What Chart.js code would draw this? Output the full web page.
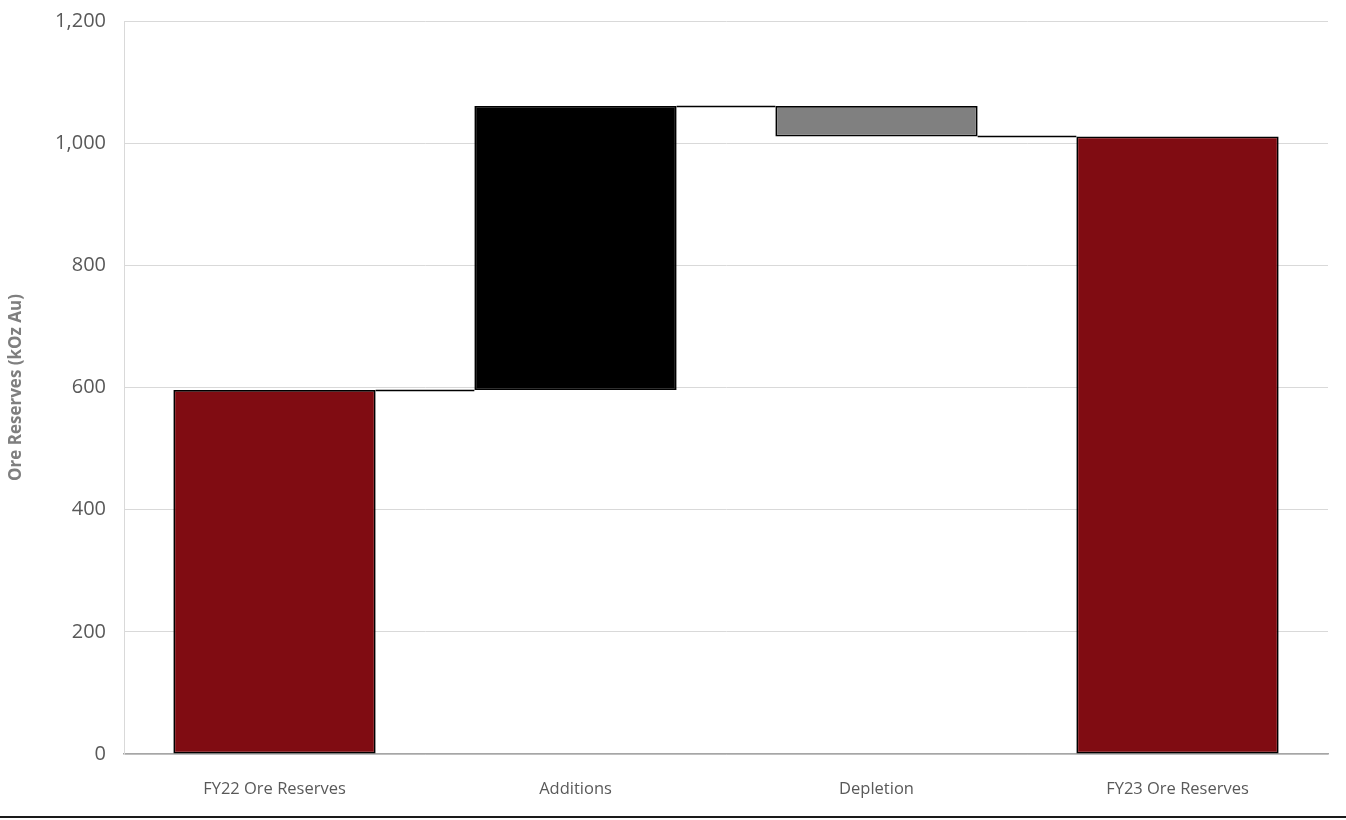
<!DOCTYPE html>
<html>
<head>
<meta charset="utf-8">
<script src="https://cdn.jsdelivr.net/npm/chart.js@4.4.1/dist/chart.umd.min.js"></script>
<style>
  html, body { margin: 0; padding: 0; background: #fff; }
  #wrap { width: 1346px; height: 820px; position: relative; }
</style>
</head>
<body>
<div id="wrap"><canvas id="reserveChart"></canvas></div>
<script>
// Ore reserve movement, kOz Au
const categories = ["FY22 Ore Reserves", "Additions", "Depletion", "FY23 Ore Reserves"];
const openingReserves = 596;
const movements = [465, -50];          // additions, depletion
const closingReserves = 1011;
const yTicks = [0, 200, 400, 600, 800, 1000, 1200];

const barColors = ["#800c12", "#000000", "#808080", "#800c12"];

// floating bars: [bottom, top] for each step of the waterfall
function buildRanges() {
    const ranges = [[0, openingReserves]];
    let level = openingReserves;
    movements.forEach(m => {
        const next = level + m;
        ranges.push([Math.min(level, next), Math.max(level, next)]);
        level = next;
    });
    ranges.push([0, closingReserves]);
    return ranges;
}
const ranges = buildRanges();

// running level after each bar, used for the connector lines
const levels = [openingReserves];
movements.forEach(m => levels.push(levels[levels.length - 1] + m));

const connectorPlugin = {
    id: "connectors",
    afterDatasetsDraw(chart) {
        const ctx = chart.ctx;
        const meta = chart.getDatasetMeta(0);
        const y = chart.scales.y;
        ctx.save();
        ctx.strokeStyle = "#000";
        ctx.lineWidth = 1.5;
        for (let i = 0; i < meta.data.length - 1; i++) {
            const a = meta.data[i], b = meta.data[i + 1];
            const py = Math.round(y.getPixelForValue(levels[i])) + 0.5;
            ctx.beginPath();
            ctx.moveTo(a.x + a.width / 2, py);
            ctx.lineTo(b.x - b.width / 2, py);
            ctx.stroke();
        }
        ctx.restore();
    },
    afterDraw(chart) {
        // frame line along the bottom edge
        const ctx = chart.ctx;
        ctx.save();
        ctx.fillStyle = "#1a1a1a";
        ctx.fillRect(0, chart.height - 4, chart.width, 2);
        ctx.restore();
    }
};

Chart.defaults.font.family = "'Open Sans', 'Liberation Sans', sans-serif";
Chart.defaults.color = "#595959";

new Chart(document.getElementById("reserveChart"), {
    type: "bar",
    data: {
        labels: categories,
        datasets: [{
            data: ranges,
            backgroundColor: barColors,
            borderColor: "#000",
            borderWidth: 1.8,
            borderSkipped: false,
            categoryPercentage: 1,
            barPercentage: 0.672
        }]
    },
    options: {
        responsive: true,
        maintainAspectRatio: false,
        animation: false,
        layout: { padding: { top: 0, right: 18, left: 6, bottom: 4 } },
        plugins: {
            legend: { display: false },
            tooltip: { enabled: false }
        },
        scales: {
            x: {
                grid: { display: false },
                border: { color: "#a6a6a6", width: 1.5 },
                ticks: { font: { size: 16.5 }, color: "#595959", padding: 17 },
                afterFit(scale) { scale.height = 62; }
            },
            y: {
                min: 0,
                max: 1200,
                afterBuildTicks(scale) { scale.ticks = yTicks.map(v => ({ value: v })); },
                grid: { color: "#d9d9d9", lineWidth: 1, drawTicks: false },
                border: { color: "#d9d9d9", width: 1 },
                ticks: {
                    font: { size: 20 },
                    color: "#595959",
                    padding: 18,
                    callback: v => v.toLocaleString("en-US")
                },
                title: {
                    display: true,
                    text: "Ore Reserves (kOz Au)",
                    font: { size: 17, weight: "bold" },
                    color: "#7f7f7f",
                    padding: { top: 0, bottom: 0 }
                },
                afterFit(scale) {
                    scale.width = 118;
                    scale.paddingTop = 21;
                    scale.paddingBottom = 0;
                }
            }
        }
    },
    plugins: [connectorPlugin]
});
</script>
</body>
</html>
